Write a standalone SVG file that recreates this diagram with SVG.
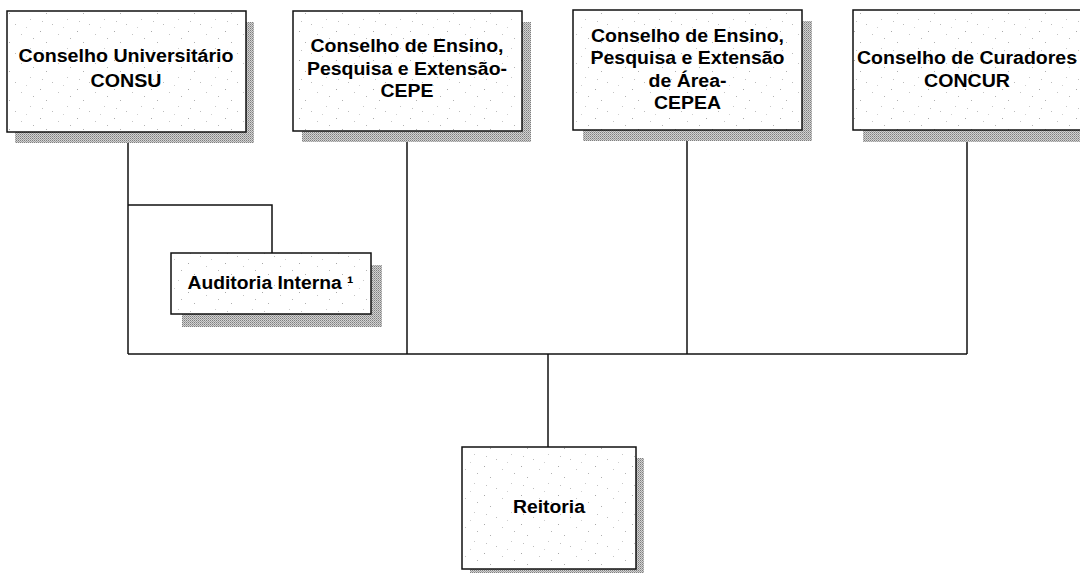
<svg xmlns="http://www.w3.org/2000/svg" width="1080" height="573" viewBox="0 0 1080 573">
<defs>
<pattern id="halftone" width="2" height="2" patternUnits="userSpaceOnUse">
<rect width="2" height="2" fill="#d2d2d2"/>
<rect x="0" y="0" width="1" height="1" fill="#7e7e7e"/>
<rect x="1" y="1" width="1" height="1" fill="#a0a0a0"/>
</pattern>
<pattern id="speckle" width="37" height="29" patternUnits="userSpaceOnUse">
<rect width="37" height="29" fill="#ffffff"/>
<rect x="3" y="2" width="1" height="1" fill="#a8a8a8"/>
<rect x="21" y="5" width="1" height="1" fill="#c4c4c4"/>
<rect x="9" y="13" width="1" height="1" fill="#b0b0b0"/>
<rect x="30" y="19" width="1" height="1" fill="#c8c8c8"/>
<rect x="15" y="24" width="1" height="1" fill="#bcbcbc"/>
<rect x="33" y="9" width="1" height="1" fill="#b4b4b4"/>
<rect x="26" y="27" width="1" height="1" fill="#d0d0d0"/>
<rect x="5" y="21" width="1" height="1" fill="#c0c0c0"/>
</pattern>
</defs>
<style>
.shadow { fill: url(#halftone); }
.box { fill: url(#speckle); stroke: #111; stroke-width: 1.5; }
.lbl { font-family: "Liberation Sans", Arial, sans-serif; font-weight: bold; font-size: 17.5px; fill: #000; text-anchor: middle; }
.conn { stroke: #111; stroke-width: 1.5; fill: none; }
</style>
<rect width="1080" height="573" fill="#ffffff"/>

<g id="connectors">
<path class="conn" d="M128 132 V354"/>
<path class="conn" d="M128 205 H272 V253"/>
<path class="conn" d="M407 131 V354"/>
<path class="conn" d="M687 130 V354"/>
<path class="conn" d="M967 130 V354"/>
<path class="conn" d="M128 354 H967"/>
<path class="conn" d="M548 354 V447"/>
</g>

<g id="consu">
<rect class="shadow" x="15" y="22" width="239" height="121"/>
<rect class="box" x="7" y="11" width="239" height="121"/>
<text class="lbl" x="126" y="62" textLength="215" lengthAdjust="spacingAndGlyphs">Conselho Universitário</text>
<text class="lbl" x="126" y="87" textLength="71" lengthAdjust="spacingAndGlyphs">CONSU</text>
</g>

<g id="cepe">
<rect class="shadow" x="302" y="22" width="229" height="120"/>
<rect class="box" x="293" y="11" width="229" height="120"/>
<text class="lbl" x="407" y="52" textLength="193" lengthAdjust="spacingAndGlyphs">Conselho de Ensino,</text>
<text class="lbl" x="407" y="75" textLength="200" lengthAdjust="spacingAndGlyphs">Pesquisa e Extensão-</text>
<text class="lbl" x="407" y="97" textLength="53" lengthAdjust="spacingAndGlyphs">CEPE</text>
</g>

<g id="cepea">
<rect class="shadow" x="583" y="21" width="229" height="120"/>
<rect class="box" x="573" y="10" width="229" height="120"/>
<text class="lbl" x="687.5" y="42" textLength="193" lengthAdjust="spacingAndGlyphs">Conselho de Ensino,</text>
<text class="lbl" x="687.5" y="64" textLength="194" lengthAdjust="spacingAndGlyphs">Pesquisa e Extensão</text>
<text class="lbl" x="687.5" y="87" textLength="78" lengthAdjust="spacingAndGlyphs">de Área-</text>
<text class="lbl" x="687.5" y="109" textLength="67" lengthAdjust="spacingAndGlyphs">CEPEA</text>
</g>

<g id="concur">
<rect class="shadow" x="863" y="21" width="229" height="121"/>
<rect class="box" x="853" y="10" width="240" height="120"/>
<text class="lbl" x="967" y="64" textLength="220" lengthAdjust="spacingAndGlyphs">Conselho de Curadores</text>
<text class="lbl" x="967" y="87" textLength="86" lengthAdjust="spacingAndGlyphs">CONCUR</text>
</g>

<g id="auditoria">
<rect class="shadow" x="182" y="265" width="200" height="62"/>
<rect class="box" x="171" y="253" width="200" height="61"/>
<text class="lbl" x="270.5" y="289" textLength="166" lengthAdjust="spacingAndGlyphs">Auditoria Interna ¹</text>
</g>

<g id="reitoria">
<rect class="shadow" x="470" y="458" width="174" height="122"/>
<rect class="box" x="462" y="447" width="174" height="122"/>
<text class="lbl" x="549" y="513" textLength="72" lengthAdjust="spacingAndGlyphs">Reitoria</text>
</g>
</svg>
